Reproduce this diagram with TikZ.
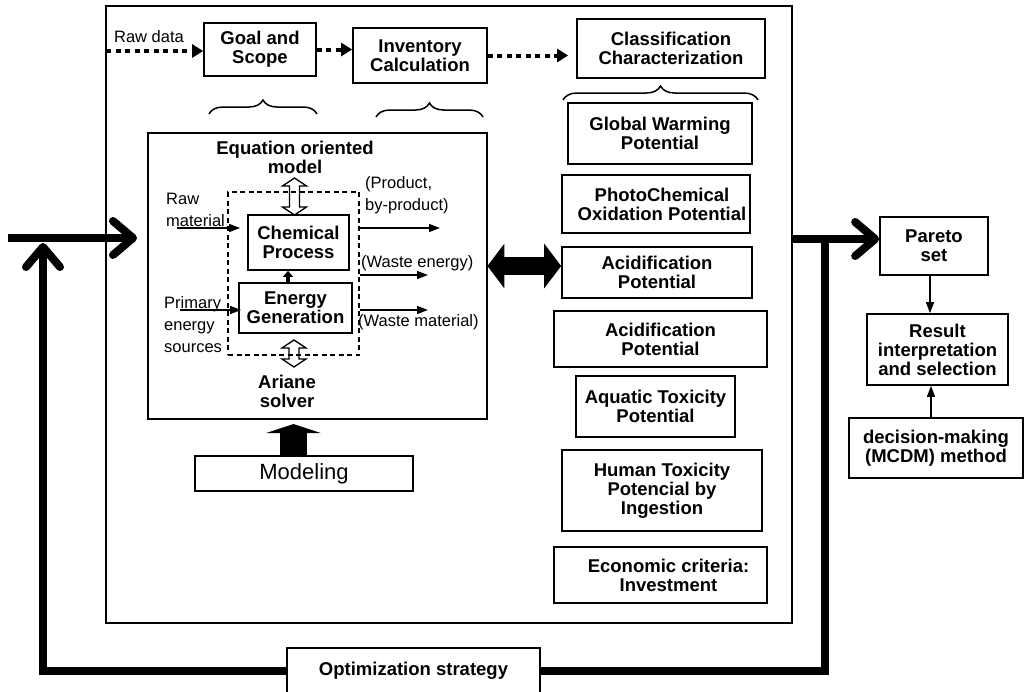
\documentclass[tikz,border=0pt]{standalone}
\usepackage{fontspec}
\setmainfont{Liberation Sans}
\usetikzlibrary{arrows.meta,decorations.pathreplacing,calc}
\begin{document}
\begin{tikzpicture}[x=1pt,y=-1pt,
  box/.style={draw, line width=1.7pt, align=center, inner sep=0pt,
    font=\bfseries\fontsize{18.5}{19}\selectfont},
  lbl/.style={inner sep=0pt, align=left, font=\fontsize{16.5}{22}\selectfont},
  blbl/.style={inner sep=0pt, align=center, font=\bfseries\fontsize{18.5}{19}\selectfont},
  dotarrow/.style={line width=4pt, dash pattern=on 5pt off 4.5pt, -{Triangle[length=11pt,width=13pt]}},
  sarr/.style={line width=1.4pt, -{Triangle[length=11pt,width=8pt]}},
  chev/.style={line width=8pt, -{Straight Barb[length=20pt,width=34pt,round]}},
  loopline/.style={line width=8pt},
  brc/.style={decorate, decoration={brace, amplitude=14pt}, line width=1.5pt},
  hollow/.style={draw, line width=1.3pt}
]
\useasboundingbox (0,0) rectangle (1024,691);
\clip (0,0) rectangle (1024,691);

% outer frame
\node[draw, line width=1.5pt, minimum width=686pt, minimum height=617pt, inner sep=0pt] (frame) at (449,314.5) {};

% top row
\node[box, minimum width=112pt, minimum height=53pt] (goal) at (260,49.5) {Goal and\\Scope};
\node[box, minimum width=134pt, minimum height=55pt] (inv) at (420,55.5) {Inventory\\Calculation};
\node[box, minimum width=188pt, minimum height=59pt] (cls) at (671,48.5) {Classification\\Characterization};
\node[lbl] (rawdata) at (149,37) {Raw data};

\coordinate (rd) at (106,51);
\draw[dotarrow] (rd) -- (rd -| goal.west);
\draw[dotarrow] (goal.east) -- (goal.east -| inv.west);
\draw[dotarrow, shorten >=8pt] (inv.east) -- (inv.east -| cls.west);

% braces
\coordinate (b1a) at (209,114); \coordinate (b1b) at (317,114);
\coordinate (b2a) at (376,117); \coordinate (b2b) at (483,117);
\coordinate (b3a) at (563,100); \coordinate (b3b) at (758,100);
\draw[brc] (b1a) -- (b1b);
\draw[brc] (b2a) -- (b2b);
\draw[brc] (b3a) -- (b3b);

% equation oriented model
\node[draw, line width=2.8pt, minimum width=339pt, minimum height=286pt, inner sep=0pt] (eq) at (317.5,276) {};
\node[blbl] (eqt) at (295,157) {Equation oriented\\model};
\node[draw, line width=1.3pt, dash pattern=on 5pt off 3.5pt, minimum width=131pt, minimum height=163pt, inner sep=0pt] (dash) at (293.5,273.5) {};
\node[box, minimum width=101pt, minimum height=55pt] (chem) at (298.5,242.5) {Chemical\\Process};
\node[box, minimum width=113pt, minimum height=50pt] (energy) at (295.5,308) {Energy\\Generation};
\node[blbl] (ariane) at (287,391) {Ariane\\solver};

% hollow double arrows
\draw[hollow] (294.5,178) -- ++(12,8) -- ++(-7,0) -- ++(0,21) -- ++(7,0) -- ++(-12,8)
  -- ++(-12,-8) -- ++(7,0) -- ++(0,-21) -- ++(-7,0) -- cycle;
\draw[hollow] (294,340) -- ++(12,8) -- ++(-7,0) -- ++(0,11) -- ++(7,0) -- ++(-12,8)
  -- ++(-12,-8) -- ++(7,0) -- ++(0,-11) -- ++(-7,0) -- cycle;

% energy -> chemical
\coordinate (ec) at (288,300);
\draw[line width=3.5pt, -{Triangle[length=6pt,width=10pt]}] (ec |- energy.north) -- (ec |- chem.south);

% inputs
\node[lbl, anchor=west] (rawmat) at (166,210) {Raw\\material};
\node[lbl, anchor=west] (prim) at (164,325) {Primary\\energy\\sources};
\coordinate (rm) at (177,228);
\coordinate (pe) at (180,310);
\draw[sarr] (rm) -- ([xshift=-7pt]rm -| chem.west);
\draw[sarr] (pe) -- ([xshift=3pt]pe -| energy.west);

% outputs
\node[lbl, anchor=west] (prod) at (365,195) {(Product,\\by-product)};
\node[lbl, anchor=west] (we) at (361,263) {(Waste energy)};
\node[lbl, anchor=west] (wm) at (358,322) {(Waste material)};
\coordinate (o1) at (440,228);
\coordinate (o2) at (428,275);
\coordinate (o3) at (428,310);
\draw[sarr] (o1 -| dash.east) -- (o1);
\draw[sarr] (o2 -| dash.east) -- (o2);
\draw[sarr] (o3 -| dash.east) -- (o3);

% modeling
\node[box, line width=2pt, font=\fontsize{22}{24}\selectfont, minimum width=218pt, minimum height=35pt] (model) at (304,473.5) {Modeling};
\coordinate (mtip) at (293.5,424);
\draw[line width=27pt, -{Triangle[length=9pt,width=54pt]}] (mtip |- model.north) -- (mtip);

% impact categories
\node[box, minimum width=184pt, minimum height=61pt] (gwp) at (660,133.5) {Global Warming\\Potential};
\node[box, minimum width=188pt, minimum height=58pt] (pco) at (656,204) {\hspace*{12pt}PhotoChemical\\\hspace*{12pt}Oxidation Potential};
\node[box, minimum width=190pt, minimum height=51pt] (acid1) at (657,272.5) {Acidification\\Potential};
\node[box, minimum width=213pt, minimum height=56pt] (acid2) at (660.5,339) {Acidification\\Potential};
\node[box, minimum width=159pt, minimum height=61pt] (aqua) at (655.5,406.5) {Aquatic Toxicity\\Potential};
\node[box, minimum width=200pt, minimum height=81pt] (human) at (662,490.5) {Human Toxicity\\Potencial by\\Ingestion};
\node[box, minimum width=213pt, minimum height=56pt] (econ) at (660.5,575) {\hspace*{16pt}Economic criteria:\\\hspace*{16pt}Investment};

% big double arrow
\coordinate (da) at (0,266);
\draw[line width=18pt, {Triangle[length=17pt,width=44pt]}-{Triangle[length=17pt,width=44pt]}]
  ([xshift=-1pt]da -| eq.east) -- (da -| acid1.west);

% right side
\node[box, minimum width=108pt, minimum height=58pt] (pareto) at (934,246) {Pareto\\set};
\node[box, minimum width=141pt, minimum height=71pt] (result) at (937.5,349.5) {Result\\interpretation\\and selection};
\node[box, minimum width=174pt, minimum height=60pt] (dm) at (936,448) {decision-making\\(MCDM) method};
\draw[sarr] (pareto.south -| 930,0) -- (result.north -| 930,0);
\draw[sarr] (dm.north -| 931,0) -- (result.south -| 931,0);

% optimization loop
\node[box, minimum width=253pt, minimum height=46pt] (opt) at (413.5,671) {Optimization strategy};
\coordinate (lin) at (8,238);
\coordinate (ltip) at (137,238);
\coordinate (lup) at (43,243);
\coordinate (rin) at (792,239);
\coordinate (rv) at (825,239);
\draw[chev] (lin) -- (ltip);
\draw[chev] (opt.west) -| (lup);
\draw[loopline] (opt.east) -| (rv);
\draw[chev] (rin) -- (rin -| pareto.west);
\end{tikzpicture}
\end{document}
